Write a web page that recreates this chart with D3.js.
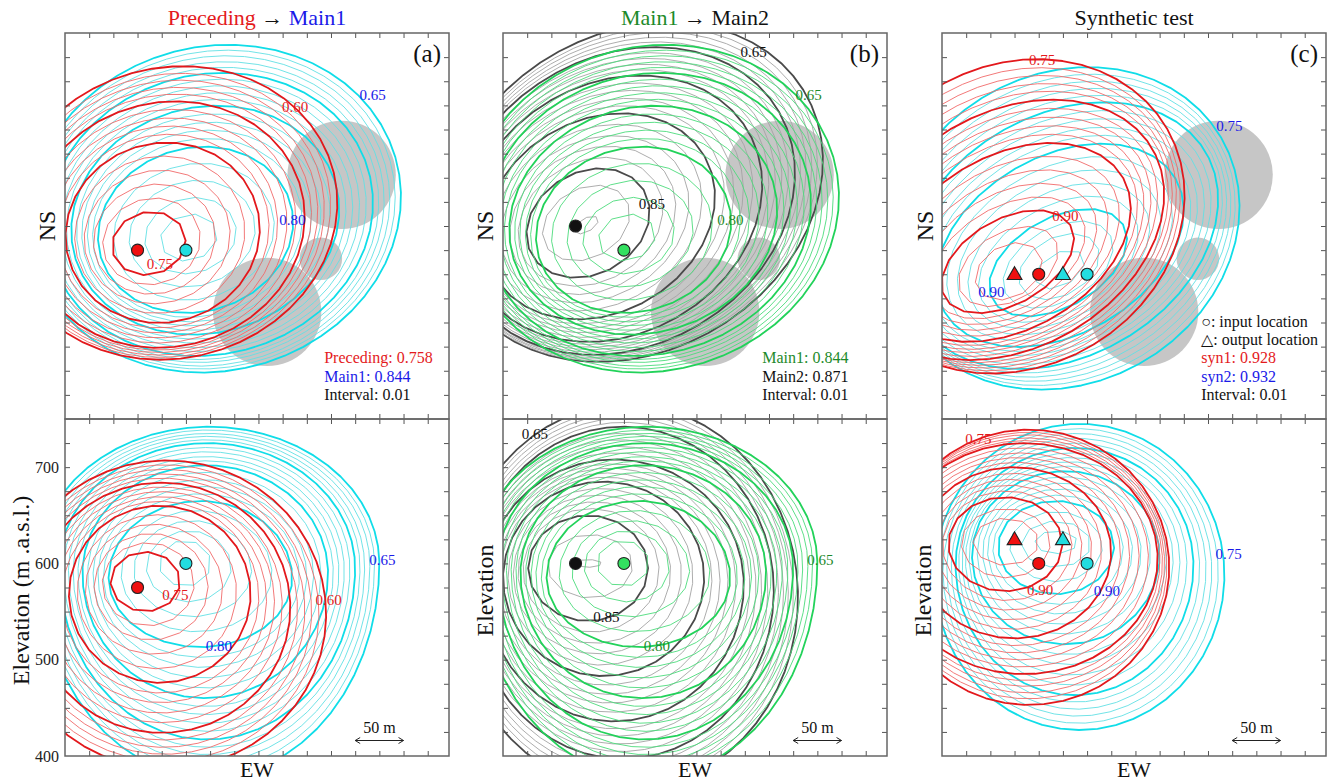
<!DOCTYPE html>
<html>
<head>
<meta charset="utf-8">
<script src="https://cdn.jsdelivr.net/npm/d3@7"></script>
<style>
body { margin: 0; background: #fff; }
svg text { font-family: "Liberation Serif", "Times New Roman", serif; }
</style>
</head>
<body>
<div id="chart"></div>
<script>
/////////////////////////////////////
/// data
/// contour rows: [level, centreEW, centreNS-or-elev, halfAxis, halfAxisTop, halfAxisBottom]  (metres)
/////////////////////////////////////

var preNS = [
  [0.75, 86.6, 182, 38.5, 32.5], [0.74, 89.5, 184, 51, 44.6], [0.73, 92.4, 186.4, 63.5, 56.7],
  [0.72, 95.2, 188.6, 76, 68.8], [0.71, 98, 191, 88.5, 81], [0.70, 101, 193, 101, 93],
  [0.69, 102, 194.7, 109.6, 99.7], [0.68, 102.6, 196.4, 118, 106.4], [0.67, 103.4, 198, 127, 113],
  [0.66, 104.2, 199.8, 135.4, 120], [0.65, 105, 201.5, 144, 126.5], [0.64, 106, 204, 150, 131.3],
  [0.63, 107, 206.3, 155.6, 136], [0.62, 108, 208.7, 161.4, 141], [0.61, 109, 211, 167, 145.7],
  [0.60, 110, 213.5, 173, 150.5]
];

var main1NS = [
  [0.84, 128, 188, 30, 24], [0.83, 129.8, 190, 48, 39], [0.82, 131.5, 192, 66, 54.5],
  [0.81, 133.3, 194, 84, 70], [0.80, 135, 196, 102, 85], [0.79, 137, 198, 109.6, 91.4],
  [0.78, 139, 200, 117, 98], [0.77, 141, 202, 125, 104], [0.76, 143, 204, 132.4, 110.6],
  [0.75, 145, 206, 140, 117], [0.74, 146, 207, 146, 122.6], [0.73, 147, 208.4, 152, 128],
  [0.72, 148, 209.6, 158, 134], [0.71, 149, 211, 164, 139.4], [0.70, 150, 212, 170, 145],
  [0.69, 151, 213, 175, 149.6], [0.68, 152, 214.4, 179.6, 154], [0.67, 153, 215.6, 184.4, 159],
  [0.66, 154, 217, 189, 163.4], [0.65, 155, 218, 194, 168]
];

var main2NS = [
  [0.87, 86, 201, 14, 7], [0.86, 86, 203, 48, 36], [0.85, 88, 203, 67, 53],
  [0.84, 90.4, 204.4, 78.6, 62.4], [0.83, 92.8, 205.8, 90, 72], [0.82, 95.2, 207, 102, 81],
  [0.81, 97.6, 208.6, 113.4, 90.6], [0.80, 100, 210, 125, 100], [0.79, 103, 211.6, 132, 106],
  [0.78, 106, 213, 139, 112], [0.77, 109, 215, 146, 118], [0.76, 112, 216.4, 153, 124],
  [0.75, 115, 218, 160, 130], [0.74, 117, 219.6, 165, 134], [0.73, 119, 221, 170, 138],
  [0.72, 121, 222.8, 175, 142], [0.71, 123, 224.4, 180, 146], [0.70, 125, 226, 185, 150],
  [0.69, 127, 228, 189, 153], [0.68, 129, 229.6, 193, 156], [0.67, 131, 231.4, 197, 159],
  [0.66, 133, 233, 201, 162], [0.65, 135, 235, 205, 165]
];

var syn1NS = [
  [0.92, 69, 153, 37, 27], [0.91, 68.5, 158, 56, 35.5], [0.90, 68, 163, 75, 44],
  [0.89, 68.4, 167, 87, 53], [0.88, 68.8, 171, 99, 62.4], [0.87, 69.2, 175, 111, 71.6],
  [0.86, 69.6, 179, 123, 81], [0.85, 70, 183, 135, 90], [0.84, 70.4, 185.6, 141.6, 96.4],
  [0.83, 70.8, 188, 148, 103], [0.82, 71.2, 190.8, 155, 109], [0.81, 71.6, 193.4, 161.4, 115.6],
  [0.80, 72, 196, 168, 122], [0.79, 72.6, 199, 171, 129], [0.78, 73.2, 201.6, 173.6, 135.6],
  [0.77, 73.8, 204.4, 176.4, 142.4], [0.76, 74.4, 207, 179, 149], [0.75, 75, 210, 182, 156]
];

var syn2NS = [
  [0.93, 122, 155, 28, 17], [0.92, 121, 158, 45, 30], [0.91, 120, 160, 62, 38],
  [0.90, 120, 162, 78, 46], [0.89, 120.4, 165.6, 90, 55], [0.88, 120.8, 169, 102, 64.4],
  [0.87, 121.2, 172.8, 114, 73.6], [0.86, 121.6, 176.4, 126, 83], [0.85, 122, 180, 138, 92],
  [0.84, 122.4, 182, 145, 98.6], [0.83, 122.8, 184, 151.6, 105], [0.82, 123.2, 186, 158.4, 112],
  [0.81, 123.6, 188, 165, 118.4], [0.80, 124, 190, 172, 125], [0.79, 124.6, 191.5, 175, 132],
  [0.78, 125.2, 193, 178, 139], [0.77, 125.8, 194.5, 181, 146], [0.76, 126.4, 196, 184, 153],
  [0.75, 127, 197.5, 187, 160]
];

var preEL = [
  [0.75, 83, 581, 36, 31, 31], [0.74, 86, 578.4, 47.6, 43.2, 43.2], [0.73, 89, 575.8, 59, 55.4, 55.4],
  [0.72, 92, 573.2, 71, 67.6, 67.6], [0.71, 95, 570.6, 82.4, 80, 80], [0.70, 98, 568, 94, 92, 92],
  [0.69, 98.4, 565, 102, 99.6, 99.6], [0.68, 98.8, 562.4, 109.6, 107, 107], [0.67, 99.2, 559.6, 117.4, 115, 115],
  [0.66, 99.6, 557, 125, 122.4, 122.4], [0.65, 100, 554, 133, 130, 130], [0.64, 101, 552.6, 139.4, 136, 136],
  [0.63, 102, 551, 146, 142, 142], [0.62, 103, 549.8, 152, 148, 148], [0.61, 104, 548.4, 158.6, 154, 154],
  [0.60, 105, 547, 165, 160, 160]
];

var main1EL = [
  [0.84, 124, 600, 27, 24, 24], [0.83, 128, 596, 44, 38, 36], [0.82, 132, 592.5, 61, 52, 48],
  [0.81, 136, 589, 78, 66, 60], [0.80, 140, 585, 95, 80, 72], [0.79, 141, 586, 101.4, 86.4, 83.6],
  [0.78, 142, 587, 108, 93, 95], [0.77, 143, 588, 114, 99, 107], [0.76, 144, 589, 120.6, 105.6, 118.4],
  [0.75, 145, 590, 127, 112, 130], [0.74, 145.4, 591, 132, 115.6, 139.6], [0.73, 145.8, 592, 137.4, 119, 149],
  [0.72, 146.2, 593, 142.6, 123, 159], [0.71, 146.6, 594, 148, 126.4, 168.4], [0.70, 147, 595, 153, 130, 178],
  [0.69, 147.4, 596, 157.6, 132.4, 187], [0.68, 147.8, 597, 162, 135, 195.6], [0.67, 148.2, 598, 167, 137, 204],
  [0.66, 148.6, 599, 171.4, 139.6, 213], [0.65, 149, 600, 176, 142, 222]
];

var main2EL = [
  [0.87, 88, 600, 14, 4, 4], [0.86, 90, 598, 44, 32, 34], [0.85, 88, 595, 62, 55, 55],
  [0.84, 91, 593, 70.4, 64, 64.4], [0.83, 94.4, 591, 79, 73, 74], [0.82, 97.6, 589, 87, 82, 83],
  [0.81, 100.8, 587, 95.6, 91, 92.6], [0.80, 104, 585, 104, 100, 102], [0.79, 106, 583.6, 110, 106, 110],
  [0.78, 108.4, 582, 116, 112, 118], [0.77, 110.6, 581, 122, 118, 126], [0.76, 112.8, 579.4, 128, 124, 134],
  [0.75, 115, 578, 134, 130, 142], [0.74, 116.8, 576.8, 138.4, 138, 148.6], [0.73, 118.6, 575.6, 143, 146, 155],
  [0.72, 120.4, 574.4, 147, 154, 162], [0.71, 122.2, 573, 151.6, 162, 168.4], [0.70, 124, 572, 156, 170, 175],
  [0.69, 124.8, 570.6, 160, 176, 180], [0.68, 125.6, 569, 164.4, 182, 185], [0.67, 126.4, 567.8, 168.6, 188, 190],
  [0.66, 127.2, 566.4, 173, 194, 195], [0.65, 128, 565, 177, 200, 200]
];

var syn1EL = [
  [0.92, 66, 622, 34, 25, 24], [0.91, 66, 621, 46, 36, 36], [0.90, 65.5, 620, 59, 49, 49],
  [0.89, 67.4, 618.4, 67, 57, 57], [0.88, 69.3, 616.8, 75.4, 64.6, 65.4], [0.87, 71.2, 615, 83.6, 72.4, 73.6],
  [0.86, 73, 613.6, 92, 80, 82], [0.85, 75, 612, 100, 88, 90], [0.84, 77, 610.6, 107.6, 94.4, 96],
  [0.83, 79, 609, 115, 101, 102], [0.82, 81, 607.8, 122.8, 107, 108], [0.81, 83, 606.4, 130.4, 113.6, 114],
  [0.80, 85, 605, 138, 120, 120], [0.79, 86, 603, 139.4, 124.6, 124.6], [0.78, 87, 601.4, 141, 129, 129],
  [0.77, 88, 599.6, 142.2, 134, 134], [0.76, 89, 597.8, 143.6, 138.4, 138.4], [0.75, 90, 596, 145, 143, 143]
];

var syn2EL = [
  [0.93, 118, 622, 22, 12, 12], [0.92, 118, 620, 36, 24, 24], [0.91, 118, 618, 48, 36, 37],
  [0.90, 118, 617, 60, 48, 49], [0.89, 120, 615, 67.4, 56, 57.6], [0.88, 122, 613.4, 75, 64, 66],
  [0.87, 124, 611.6, 82, 72, 75], [0.86, 126, 610, 89.6, 80, 83.4], [0.85, 128, 608, 97, 88, 92],
  [0.84, 130, 606, 102, 95, 100.6], [0.83, 131.6, 604, 107.4, 101.6, 109], [0.82, 133.4, 602, 112.6, 108, 118],
  [0.81, 135.2, 600, 118, 115, 126.4], [0.80, 137, 598, 123, 122, 135], [0.79, 138, 596, 128.4, 129, 140],
  [0.78, 139, 594, 134, 136, 145.4], [0.77, 140, 592, 139, 143, 150.6], [0.76, 141, 590, 144.6, 150, 156],
  [0.75, 142, 588, 150, 157, 161]
];

// tilt of each family (degrees, anticlockwise)
var tiltPre = 15, tiltMain1 = 15, tiltMain2 = 30, tiltSyn = 30;

// gray circles in the map view: [EW, NS, radius]
var grayCircles = [[286, 253, 56], [264.5, 166, 22], [209, 111, 56]];

// marker rows: [shape, colour key, EW, NS-or-elev]
var markersA_NS = [['circle', 'red', 75, 175], ['circle', 'cyan', 125, 175]];
var markersA_EL = [['circle', 'red', 75, 575], ['circle', 'cyan', 125, 600]];
var markersB_NS = [['circle', 'black', 75, 200], ['circle', 'green', 125, 175]];
var markersB_EL = [['circle', 'black', 75, 600], ['circle', 'green', 125, 600]];
var markersC_NS = [['triangle', 'red', 75, 150], ['circle', 'red', 100, 150], ['triangle', 'cyan', 125, 150], ['circle', 'cyan', 150, 150]];
var markersC_EL = [['triangle', 'red', 75, 625], ['circle', 'red', 100, 600], ['triangle', 'cyan', 125, 625], ['circle', 'cyan', 150, 600]];

// contour value labels: [text, colour key, EW, NS-or-elev]
var labelsA_NS = [['0.60', 'red', 238, 324], ['0.65', 'blue', 318, 336], ['0.80', 'blue', 235, 206], ['0.75', 'red', 98, 161]];
var labelsA_EL = [['0.65', 'blue', 328, 604], ['0.60', 'red', 272.6, 562], ['0.75', 'red', 114, 567], ['0.80', 'blue', 159, 515]];
var labelsB_NS = [['0.65', 'black', 259, 381], ['0.65', 'green', 316, 336], ['0.85', 'black', 154, 223], ['0.80', 'green', 235, 206]];
var labelsB_EL = [['0.65', 'black', 33, 735], ['0.65', 'green', 328, 604], ['0.85', 'black', 107, 545], ['0.80', 'green', 159, 515]];
var labelsC_NS = [['0.75', 'red', 103.5, 372], ['0.90', 'red', 127.6, 210.7], ['0.90', 'blue', 51, 132.3], ['0.75', 'blue', 297, 304]];
var labelsC_EL = [['0.75', 'red', 37.6, 729], ['0.90', 'red', 101.4, 573], ['0.90', 'blue', 170.5, 571.6], ['0.75', 'blue', 296.4, 609.8]];

// legends and titles
var legendA = [['Preceding: 0.758', 'red'], ['Main1: 0.844', 'blue'], ['Interval: 0.01', 'black']];
var legendB = [['Main1: 0.844', 'green'], ['Main2: 0.871', 'black'], ['Interval: 0.01', 'black']];
var legendC = [['\u25CB: input location', 'black'], ['\u25B3: output location', 'black'], ['syn1: 0.928', 'red'], ['syn2: 0.932', 'blue'], ['Interval: 0.01', 'black']];
var titleA = [['Preceding', 'red'], [' \u2192 ', 'black'], ['Main1', 'blue']];
var titleB = [['Main1', 'green'], [' \u2192 ', 'black'], ['Main2', 'black']];
var titleC = [['Synthetic test', 'black']];

var elevTickLabels = [400, 500, 600, 700];
var scaleBarEW = [300, 350];

////////////////////////////////////
/// styles
////////////////////////////////////
var lineColors = {
  red: { thin: '#f06a6a', thick: '#e3181c' },
  cyan: { thin: '#62e0e4', thick: '#10dde8' },
  green: { thin: '#4cdb7c', thick: '#22d25a' },
  black: { thin: '#a4a4a4', thick: '#4a4a4a' }
};
var textColors = { red: '#e41a1c', blue: '#1a1ae8', green: '#1d8a2a', black: '#111' };
var markerFill = { red: '#f01010', cyan: '#22dde0', green: '#33e060', black: '#111' };

////////////////////////////////////
/// reusable panel
////////////////////////////////////
var ContourPanel = function(opt) {
  this.svg = opt.svg;
  this.id = opt.id;
  this.left = opt.left;
  this.top = opt.top;
  this.width = opt.width;
  this.height = opt.height;
  this.yDomain = opt.yDomain;
  this.families = opt.families;
  this.circles = opt.circles;
  this.labels = opt.labels;
  this.markers = opt.markers;
  this.legend = opt.legend;
  this.tag = opt.tag;
  this.title = opt.title;
  this.yTitle = opt.yTitle;
  this.yTitleX = opt.yTitleX;
  this.elevation = opt.elevation;
  this.draw();
};

ContourPanel.prototype.draw = function() {
  this.plot = this.svg.append('g')
    .attr('transform', 'translate(' + this.left + ',' + this.top + ')');

  this.generateScales();
  this.addClip();
  this.drawCircles();
  this.drawContours();
  this.drawLabels();
  this.drawMarkers();
  this.drawLegend();
  this.drawScaleBar();
  this.addAxis();
  this.addTitles();
};

ContourPanel.prototype.generateScales = function() {
  this.xScale = d3.scaleLinear().domain([0, 397]).range([0, this.width]);
  this.yScale = d3.scaleLinear().domain(this.yDomain).range([this.height, 0]);
};

ContourPanel.prototype.addClip = function() {
  this.svg.append('clipPath').attr('id', 'clip-' + this.id)
    .append('rect').attr('width', this.width).attr('height', this.height);
  this.inner = this.plot.append('g').attr('clip-path', 'url(#clip-' + this.id + ')');
};

ContourPanel.prototype.drawCircles = function() {
  if (!this.circles) return;
  var that = this;
  var k = this.xScale(1) - this.xScale(0);
  this.inner.selectAll('circle.zone')
    .data(this.circles)
    .enter().append('circle')
    .attr('class', 'zone')
    .attr('cx', function(d) { return that.xScale(d[0]); })
    .attr('cy', function(d) { return that.yScale(d[1]); })
    .attr('r', function(d) { return d[2] * k; })
    .attr('fill', '#c6c6c6');
};

// closed ring through a polygon of vertices, coarse like a gridded contour
ContourPanel.prototype.ringPoints = function(row, tilt) {
  var cx = row[1], cy = row[2], a = row[3], bt = row[4];
  var bb = row.length > 5 ? row[5] : row[4];
  var th = tilt * Math.PI / 180;
  var n = Math.max(7, Math.round(Math.PI * (a + (bt + bb) / 2) / 20));
  var pts = [];
  for (var i = 0; i < n; i++) {
    var t = 2 * Math.PI * i / n + 0.35;
    var u = a * Math.cos(t), s = Math.sin(t), v = (s >= 0 ? bt : bb) * s;
    pts.push([cx + u * Math.cos(th) - v * Math.sin(th), cy + u * Math.sin(th) + v * Math.cos(th)]);
  }
  return pts;
};

ContourPanel.prototype.drawContours = function() {
  var that = this;
  var line = d3.line()
    .x(function(d) { return that.xScale(d[0]); })
    .y(function(d) { return that.yScale(d[1]); })
    .curve(d3.curveLinearClosed);

  this.families.forEach(function(fam) {
    var g = that.inner.append('g');
    var rows = fam.rows.slice().sort(function(p, q) { return p[0] - q[0]; });
    g.selectAll('path')
      .data(rows)
      .enter().append('path')
      .attr('d', function(d) { return line(that.ringPoints(d, fam.tilt)); })
      .attr('fill', 'none')
      .attr('stroke', function(d) {
        return Math.round(d[0] * 100) % 5 === 0 ? lineColors[fam.color].thick : lineColors[fam.color].thin;
      })
      .attr('stroke-width', function(d) {
        return Math.round(d[0] * 100) % 5 === 0 ? 1.8 : 0.9;
      })
      .attr('stroke-linejoin', 'round');
  });
};

ContourPanel.prototype.drawLabels = function() {
  var that = this;
  this.inner.selectAll('text.clabel')
    .data(this.labels)
    .enter().append('text')
    .attr('class', 'clabel')
    .attr('x', function(d) { return that.xScale(d[2]); })
    .attr('y', function(d) { return that.yScale(d[3]); })
    .attr('dy', '0.35em')
    .attr('text-anchor', 'middle')
    .attr('font-size', 15)
    .attr('fill', function(d) { return textColors[d[1]]; })
    .text(function(d) { return d[0]; });
};

ContourPanel.prototype.drawMarkers = function() {
  var that = this;
  var tri = d3.symbol().type(d3.symbolTriangle).size(95);
  this.markers.forEach(function(m) {
    var x = that.xScale(m[2]), y = that.yScale(m[3]);
    if (m[0] === 'circle') {
      that.plot.append('circle')
        .attr('cx', x).attr('cy', y).attr('r', 6)
        .attr('fill', markerFill[m[1]])
        .attr('stroke', '#222').attr('stroke-width', 1.1);
    } else {
      that.plot.append('path')
        .attr('d', tri())
        .attr('transform', 'translate(' + x + ',' + (y + 1) + ')')
        .attr('fill', markerFill[m[1]])
        .attr('stroke', '#222').attr('stroke-width', 1.1);
    }
  });
};

ContourPanel.prototype.drawLegend = function() {
  if (!this.legend) return;
  var n = this.legend.length;
  var x = this.xScale(268);
  var that = this;
  this.plot.selectAll('text.legend')
    .data(this.legend)
    .enter().append('text')
    .attr('class', 'legend')
    .attr('x', x)
    .attr('y', function(d, i) { return that.height - 19 - (n - 1 - i) * 18.3; })
    .attr('font-size', 16)
    .attr('fill', function(d) { return textColors[d[1]]; })
    .text(function(d) { return d[0]; });
};

ContourPanel.prototype.drawScaleBar = function() {
  if (!this.elevation) return;
  var x0 = this.xScale(scaleBarEW[0]), x1 = this.xScale(scaleBarEW[1]);
  var y = this.height - 15.5;
  var g = this.plot.append('g').attr('stroke', '#222').attr('stroke-width', 1).attr('fill', 'none');
  g.append('line').attr('x1', x0).attr('x2', x1).attr('y1', y).attr('y2', y);
  g.append('path').attr('d', 'M' + (x0 + 5) + ',' + (y - 3) + 'L' + x0 + ',' + y + 'L' + (x0 + 5) + ',' + (y + 3));
  g.append('path').attr('d', 'M' + (x1 - 5) + ',' + (y - 3) + 'L' + x1 + ',' + y + 'L' + (x1 - 5) + ',' + (y + 3));
  this.plot.append('text')
    .attr('x', (x0 + x1) / 2).attr('y', y - 8)
    .attr('text-anchor', 'middle')
    .attr('font-size', 16)
    .attr('fill', '#111')
    .text('50 m');
};

ContourPanel.prototype.addAxis = function() {
  var xTicks = d3.range(25, 397, 25);
  var yTicks = d3.range(this.yDomain[0] + 25, this.yDomain[1], 25);

  this.plot.append('g')
    .attr('transform', 'translate(0,' + this.height + ')')
    .call(d3.axisBottom(this.xScale).tickValues(xTicks).tickSize(-5).tickFormat(''));
  this.plot.append('g')
    .call(d3.axisTop(this.xScale).tickValues(xTicks).tickSize(-5).tickFormat(''));
  this.plot.append('g')
    .attr('transform', 'translate(' + this.width + ',0)')
    .call(d3.axisRight(this.yScale).tickValues(yTicks).tickSize(-5).tickFormat(''));

  var left = d3.axisLeft(this.yScale).tickValues(yTicks).tickSize(-5).tickFormat('');
  this.plot.append('g').call(left);

  if (this.elevation && this.id === 'a2') {
    this.plot.append('g')
      .call(d3.axisLeft(this.yScale).tickValues(elevTickLabels).tickSize(0).tickPadding(6))
      .call(function(g) { g.select('.domain').remove(); })
      .selectAll('text')
      .attr('font-size', 16)
      .attr('fill', '#222')
      .style('font-family', '"Liberation Serif", serif');
  }

  this.plot.selectAll('.domain').remove();
  this.plot.selectAll('.tick line').attr('stroke', '#555').attr('stroke-width', 1);

  this.plot.append('rect')
    .attr('width', this.width).attr('height', this.height)
    .attr('fill', 'none').attr('stroke', '#666').attr('stroke-width', 1.5);
};

ContourPanel.prototype.addTitles = function() {
  var cx = this.width / 2;
  if (this.tag) {
    this.plot.append('text')
      .attr('x', this.width - 8).attr('y', 29)
      .attr('text-anchor', 'end')
      .attr('font-size', 25)
      .attr('fill', '#111')
      .text(this.tag);
  }
  if (this.title) {
    var t = this.plot.append('text')
      .attr('x', cx).attr('y', -8)
      .attr('text-anchor', 'middle')
      .attr('font-size', 22);
    this.title.forEach(function(p) {
      t.append('tspan').attr('fill', textColors[p[1]]).text(p[0]);
    });
  }
  // y title
  this.svg.append('text')
    .attr('transform', 'translate(' + this.yTitleX + ',' + (this.top + this.height / 2 + (this.elevation ? 3 : 0)) + ') rotate(-90)')
    .attr('text-anchor', 'middle')
    .attr('dy', '0.35em')
    .attr('font-size', 24)
    .attr('fill', '#111')
    .text(this.yTitle);
  if (this.elevation) {
    this.plot.append('text')
      .attr('x', cx).attr('y', this.height + 21)
      .attr('text-anchor', 'middle')
      .attr('font-size', 22)
      .attr('fill', '#111')
      .text('EW');
  }
};

////////////////////////////////////
/// build the figure
////////////////////////////////////
var svg = d3.select('#chart').append('svg')
  .attr('width', 1330).attr('height', 783);

var colLeft = [65, 503, 942];
var colWidth = 384;
var topRow = { top: 33, height: 386, domain: [0, 400] };
var botRow = { top: 419, height: 337, domain: [400, 750] };

new ContourPanel({ svg: svg, id: 'a1', left: colLeft[0], top: topRow.top, width: colWidth, height: topRow.height,
  yDomain: topRow.domain, circles: grayCircles,
  families: [{ rows: main1NS, tilt: tiltMain1, color: 'cyan' }, { rows: preNS, tilt: tiltPre, color: 'red' }],
  labels: labelsA_NS, markers: markersA_NS, legend: legendA, tag: '(a)', title: titleA, yTitle: 'NS', yTitleX: 47 });
new ContourPanel({ svg: svg, id: 'a2', left: colLeft[0], top: botRow.top, width: colWidth, height: botRow.height,
  yDomain: botRow.domain, elevation: true,
  families: [{ rows: main1EL, tilt: 0, color: 'cyan' }, { rows: preEL, tilt: 0, color: 'red' }],
  labels: labelsA_EL, markers: markersA_EL, yTitle: 'Elevation (m .a.s.l.)', yTitleX: 21 });

new ContourPanel({ svg: svg, id: 'b1', left: colLeft[1], top: topRow.top, width: colWidth, height: topRow.height,
  yDomain: topRow.domain, circles: grayCircles,
  families: [{ rows: main2NS, tilt: tiltMain2, color: 'black' }, { rows: main1NS, tilt: tiltMain1, color: 'green' }],
  labels: labelsB_NS, markers: markersB_NS, legend: legendB, tag: '(b)', title: titleB, yTitle: 'NS', yTitleX: 485 });
new ContourPanel({ svg: svg, id: 'b2', left: colLeft[1], top: botRow.top, width: colWidth, height: botRow.height,
  yDomain: botRow.domain, elevation: true,
  families: [{ rows: main2EL, tilt: 0, color: 'black' }, { rows: main1EL, tilt: 0, color: 'green' }],
  labels: labelsB_EL, markers: markersB_EL, yTitle: 'Elevation', yTitleX: 485 });

new ContourPanel({ svg: svg, id: 'c1', left: colLeft[2], top: topRow.top, width: colWidth, height: topRow.height,
  yDomain: topRow.domain, circles: grayCircles,
  families: [{ rows: syn2NS, tilt: tiltSyn, color: 'cyan' }, { rows: syn1NS, tilt: tiltSyn, color: 'red' }],
  labels: labelsC_NS, markers: markersC_NS, legend: legendC, tag: '(c)', title: titleC, yTitle: 'NS', yTitleX: 925 });
new ContourPanel({ svg: svg, id: 'c2', left: colLeft[2], top: botRow.top, width: colWidth, height: botRow.height,
  yDomain: botRow.domain, elevation: true,
  families: [{ rows: syn2EL, tilt: 0, color: 'cyan' }, { rows: syn1EL, tilt: 0, color: 'red' }],
  labels: labelsC_EL, markers: markersC_EL, yTitle: 'Elevation', yTitleX: 923 });
</script>
</body>
</html>
